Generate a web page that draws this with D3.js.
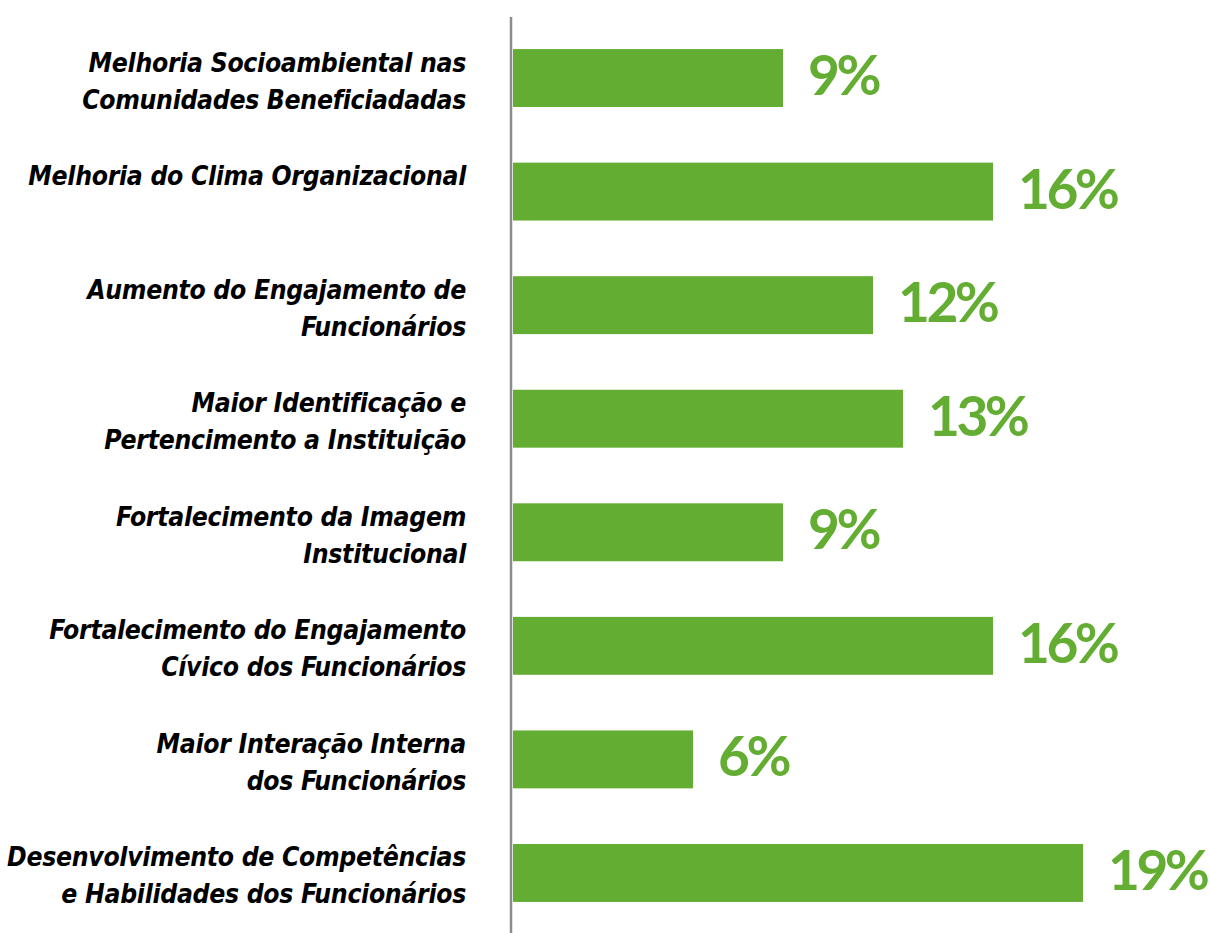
<!DOCTYPE html>
<html>
<head>
<meta charset="utf-8">
<script src="https://cdn.jsdelivr.net/npm/d3@7"></script>
<style>
  html, body { margin: 0; padding: 0; background: #ffffff; }
  svg { display: block; }
</style>
</head>
<body>
<svg id="chart" width="1210" height="933"></svg>
<script>
const categories = [
  "Melhoria Socioambiental nas|Comunidades Beneficiadadas",
  "Melhoria do Clima Organizacional",
  "Aumento do Engajamento de|Funcionários",
  "Maior Identificação e|Pertencimento a Instituição",
  "Fortalecimento da Imagem|Institucional",
  "Fortalecimento do Engajamento|Cívico dos Funcionários",
  "Maior Interação Interna|dos Funcionários",
  "Desenvolvimento de Competências|e Habilidades dos Funcionários"
];
const values = [9, 16, 12, 13, 9, 16, 6, 19];

const svg = d3.select("#chart");
const green = "#63ad32";

const x = d3.scaleLinear().domain([0, 20]).range([513, 1113]);
const y = d3.scaleBand().domain(categories).range([15, 936])
  .paddingInner(0.49).paddingOuter(0.3);

// bars
svg.append("g").selectAll("rect").data(categories).join("rect")
  .attr("x", x(0))
  .attr("y", d => y(d))
  .attr("width", (d, i) => x(values[i]) - x(0))
  .attr("height", y.bandwidth())
  .attr("fill", green);

// axis line
svg.append("line")
  .attr("x1", 511).attr("x2", 511)
  .attr("y1", 17).attr("y2", 933)
  .attr("stroke", "#8c8c8c").attr("stroke-width", 2.5);

// category labels
const lab = svg.append("g").selectAll("text").data(categories).join("text")
  .attr("text-anchor", "end")
  .attr("font-family", "'DejaVu Sans Condensed', 'DejaVu Sans', sans-serif")
  .attr("font-weight", "bold")
  .attr("font-style", "italic")
  .attr("font-size", 26.3)
  .attr("letter-spacing", -0.3)
  .attr("fill", "#000");
lab.each(function(d) {
  const lines = d.split("|");
  const c = y(d) + y.bandwidth() / 2;
  d3.select(this).selectAll("tspan").data(lines).join("tspan")
    .attr("x", 466)
    .attr("y", (l, j) => c - 6.5 + j * 37)
    .text(l => l);
});

// value labels
svg.append("g").selectAll("text").data(categories).join("text")
  .attr("x", (d, i) => x(values[i]) + 25)
  .attr("y", d => y(d) + y.bandwidth() / 2 + 17)
  .attr("font-family", "Lato, 'Open Sans', sans-serif")
  .attr("font-weight", "bold")
  .attr("font-size", 55)
  .attr("letter-spacing", -3.5)
  .attr("fill", green)
  .text((d, i) => values[i] + "%");
</script>
</body>
</html>
